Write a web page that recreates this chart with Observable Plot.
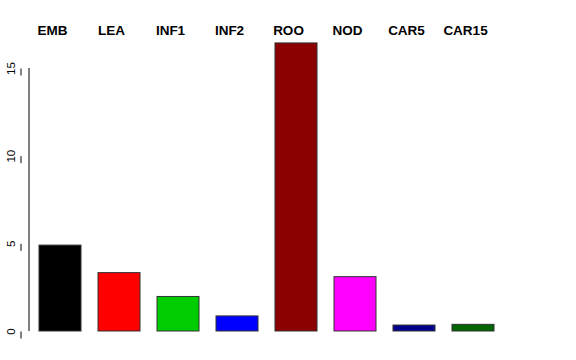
<!DOCTYPE html>
<html><head><meta charset="utf-8">
<script src="https://cdn.jsdelivr.net/npm/d3@7"></script>
<script src="https://cdn.jsdelivr.net/npm/@observablehq/plot@0.6"></script>
<style>body{margin:0;background:#fff;font-family:"Liberation Sans",Arial,sans-serif;}</style>
</head><body><div id="chart"></div>
<script>
const categories = ["EMB","LEA","INF1","INF2","ROO","NOD","CAR5","CAR15"];
const values = [4.9, 3.33, 1.97, 0.86, 16.43, 3.1, 0.34, 0.38];
const colors = ["#000000","#FF0000","#00CD00","#0000FF","#8B0000","#FF00FF","#00008B","#006400"];
const yTicks = [0,5,10,15];

const data = categories.map((c,i)=>({cat:c, value:values[i], color:colors[i]}));

const plot = Plot.plot({
  width: 576, height: 360,
  marginLeft: 29, marginTop: 35, marginBottom: 29, marginRight: 81,
  style: {fontFamily: "Liberation Sans, Arial, sans-serif", background: "#fff", color: "#000"},
  x: {type: "band", domain: categories, range: [38, 495], paddingInner: 0.288, paddingOuter: 0},
  y: {domain: [0, 15], range: [331, 68]},
  marks: [
    Plot.barY(data, {x: "cat", y: "value", fill: "color", stroke: "#333", strokeWidth: 1}),
    Plot.axisX({anchor: "top", tickSize: 0, tickPadding: 1, fontSize: 13.5, fontWeight: "bold", dx: -8, label: null}),
    Plot.axisY({anchor: "left", ticks: yTicks, tickSize: 7, tickPadding: 3, fontSize: 11.5, rotate: -90, textAnchor: "middle", dx: -8, label: null, strokeWidth: 1})
  ]
});

// y axis line spanning the tick range
const ys = plot.scale("y");
d3.select(plot).append("line")
  .attr("x1", 29).attr("x2", 29)
  .attr("y1", ys.apply(yTicks[0])).attr("y2", ys.apply(yTicks[yTicks.length-1]))
  .attr("stroke", "#000").attr("stroke-width", 1);

document.getElementById("chart").appendChild(plot);
</script>
</body></html>
